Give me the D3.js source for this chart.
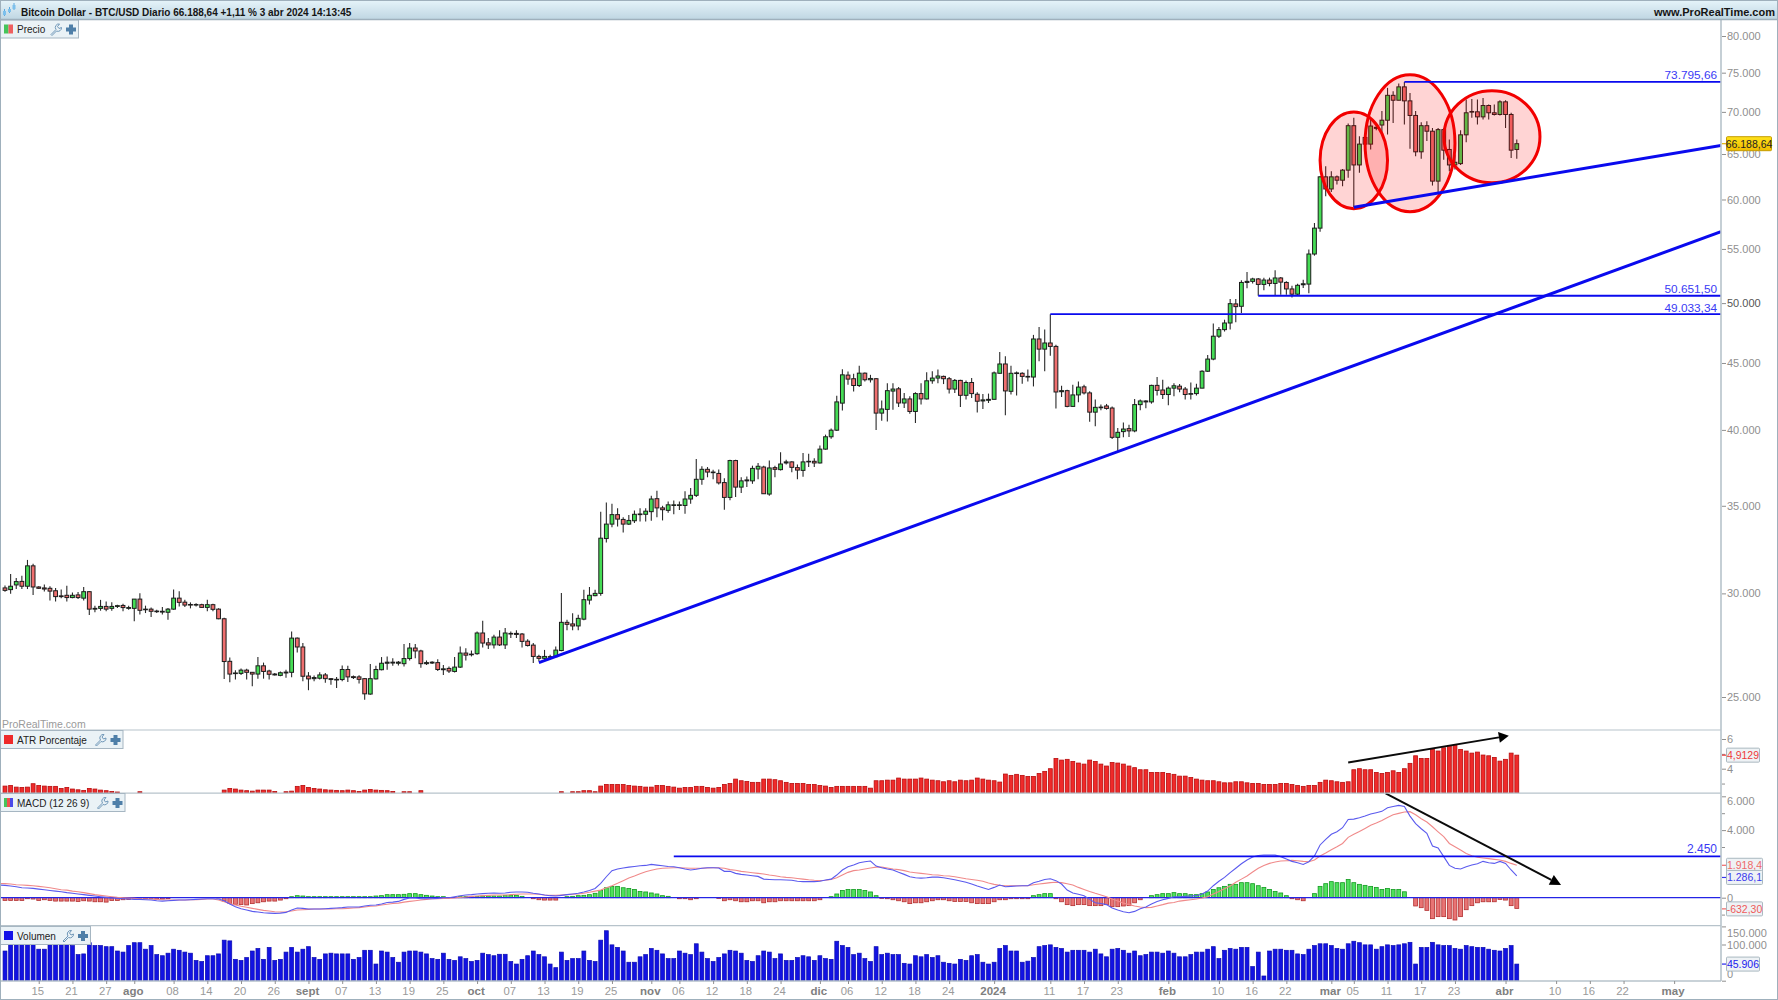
<!DOCTYPE html>
<html><head><meta charset="utf-8">
<script src="https://cdn.jsdelivr.net/npm/d3@7"></script>
<style>
html,body{margin:0;padding:0;background:#fff;overflow:hidden}
svg{display:block}
text{font-family:"Liberation Sans",Arial,sans-serif}
</style></head><body><svg id="c" width="1778" height="1000"></svg>
<script>
const startDay="2023-07-09";
const opens=[
30290,30200,30450,30640,30380,31490,30340,30290,30270,30140,
29870,29900,29780,29920,29750,30090,29180,29220,29320,29220,
29320,29370,29220,29220,29700,29180,29180,29080,29030,29020,
29180,29750,29540,29420,29390,29410,29270,29410,29180,28690,
26620,26050,26060,26210,26110,26030,26410,26170,26030,25970,
26080,26110,27730,27300,25940,25820,25840,25990,25820,25760,
25780,26240,25910,25900,25820,25130,25810,26230,26530,26540,
26530,26510,26750,27250,27110,26510,26540,26560,26230,26290,
26150,26350,27010,26930,26980,27980,27500,27400,27780,27400,
27930,27960,27930,27580,27390,26850,26760,26810,26840,27130,
28510,28430,28330,28670,29650,29880,30000,33040,33890,34460,
34170,33890,34090,34460,34480,34640,35440,34870,34720,35020,
35020,35020,35420,35650,36670,37320,37100,37050,36460,35520,
37900,36170,36570,36570,37340,37470,35730,37430,37300,37740,
37810,37430,37250,37810,37850,37740,38670,39520,39980,41930,
44050,43770,43250,44200,43690,43770,41200,41470,42830,43000,
41940,42240,41320,42640,42240,43610,43820,43950,43770,42980,
43640,42510,43480,42590,42090,42140,42210,44190,44920,42810,
44170,44190,43900,43900,46940,46110,46610,46330,42780,42860,
41690,42540,43150,42690,41270,41590,41720,41570,39480,39880,
40090,39930,41820,42020,42020,43260,42910,42570,43050,43200,
42980,42590,42640,43050,44350,45310,47170,47720,48280,49930,
49720,51850,51950,52170,51670,52070,51760,52260,51850,51260,
50790,51640,51700,54510,57050,62440,61120,62440,62070,63180,
68320,63760,66920,66140,68000,68400,68980,72070,71450,73150,
71370,69560,65250,68320,67660,61970,67850,65520,63760,63910,
67230,69970,70010,69390,70790,69890,69680,71250,69680,65520];
const closes=[
30160,30380,30630,30380,31490,30340,30270,30230,30120,29830,
29830,29780,29900,29780,30090,29180,29220,29320,29180,29320,
29360,29260,29260,29700,29120,29150,29070,29050,29070,29180,
29750,29530,29390,29390,29420,29270,29410,29170,28690,26610,
26030,26080,26210,26110,26030,26410,26150,26020,25990,26090,
26120,27730,27300,25930,25810,25870,25990,25820,25780,25790,
26240,25900,25870,25790,25140,25820,26240,26530,26580,26580,
26580,26750,27250,27110,26510,26560,26580,26240,26270,26170,
26350,27010,26910,26960,27980,27490,27400,27780,27400,27980,
27960,27910,27570,27370,26850,26760,26850,26840,27150,28510,
28410,28330,28710,29670,29900,30000,33060,33890,34460,34190,
33890,34110,34480,34500,34670,35420,34870,34760,35060,35060,
35060,35420,35650,36670,37320,37140,37140,36440,35520,37900,
36170,36570,36630,37380,37520,35750,37410,37320,37670,37810,
37450,37270,37810,37850,37740,38670,39520,39980,42020,44070,
43740,43250,44200,43690,43790,41200,41500,42860,42980,41940,
42240,41320,42640,42240,43610,43820,43980,43770,42980,43640,
42510,43480,42640,42070,42170,42210,44220,44920,42840,44190,
44220,43950,43950,46940,46110,46610,46330,42760,42860,41690,
42540,43130,42690,41270,41620,41640,41540,39480,39830,40060,
39930,41820,42090,42090,43260,42880,42570,43050,43230,42980,
42570,42640,43050,44350,45310,47170,47720,48280,49950,49690,
51850,51950,52170,51670,52070,51760,52260,51880,51260,50790,
51590,51730,54510,57050,62440,61120,62440,62070,63180,68320,
63760,66140,66140,68280,68120,68980,72070,71450,73150,71370,
69560,65250,68320,67660,61970,67850,65440,63760,64060,67230,
69890,70050,69390,70790,69890,69680,71250,69680,65440,66188.64];
const highs=[
30420,31040,30820,30950,31820,31600,30380,30470,30380,30290,
30200,30410,30050,30070,30340,30110,29360,29660,29580,29530,
29410,29460,29360,29700,30010,29360,29260,29150,29290,29240,
30200,30110,29660,29530,29490,29460,29660,29460,29220,28740,
26800,26200,26290,26270,26120,26820,26560,26230,26080,26150,
26230,28050,27760,27490,26120,25960,26110,26080,25850,25900,
26420,26410,25960,25970,25850,26500,26410,26820,26850,26770,
26640,27440,27490,27440,27170,26660,26620,26720,26450,26380,
26820,27320,27240,27130,28060,28590,27730,27900,28110,28230,
28060,28110,27980,27680,27490,26930,27160,26930,27320,30020,
28640,28970,28890,30190,30340,30190,34640,35210,35130,34850,
34300,34440,34710,34850,34850,35630,35940,35000,35270,35330,
35270,35900,36110,38010,37520,37470,37290,37300,36740,37960,
37960,36810,36850,37560,37740,37560,37900,37560,38450,37960,
37850,37630,38410,38360,38050,38920,39670,40100,42470,44510,
44330,44150,44780,44250,44070,43820,42120,43430,43430,43130,
42690,42440,42740,43430,44270,44350,44480,44010,43900,43740,
43690,43640,43820,42740,42610,42640,44320,45870,45530,44780,
44320,44270,44480,47280,47950,47720,49033.34,46470,43230,42930,
43310,43560,43310,42810,42190,41820,41870,41690,40130,40530,
40370,42240,42190,42140,43310,43900,43690,43180,43430,43360,
43130,43480,43380,44430,45630,48230,47950,48560,50360,50360,
52040,52820,52290,52260,52290,52290,52980,52350,51950,51550,
51730,52100,54940,57570,62500,63620,63060,62590,63320,68570,
69270,67070,67000,69070,68650,70100,73020,72580,73580,73795.66,
72360,70100,68730,68850,68040,68040,68040,66680,64930,67770,
71540,71620,71540,71740,70920,70920,71450,71450,69890,66680];
const lows=[
30090,29980,30230,30230,30230,29920,30230,30100,29630,29580,
29750,29580,29750,29700,29630,28880,29020,29100,29070,29100,
29240,29070,29150,28560,28900,28980,28780,28980,28910,28640,
29150,29320,29290,29220,29320,29240,29070,29070,28670,25810,
25660,25780,25990,25780,25480,25820,25820,25780,25960,25930,
25860,25880,27040,25700,25300,25700,25780,25630,25550,25400,
25700,25670,25810,25600,24880,25100,25780,26200,26230,26410,
26420,26380,26660,26770,26320,26450,26500,26170,25990,26080,
26100,26310,26660,26850,26930,27270,27200,27230,27350,27200,
27730,27730,27270,27320,26540,26620,26620,26700,26810,27090,
28110,28110,28110,28610,29420,29850,29880,32810,33710,33750,
33400,33830,33950,34050,34050,34090,34300,34110,34580,34480,
34740,34520,35130,35540,36320,36800,36670,36340,34750,35340,
35540,35790,36170,36380,36670,35750,35630,36800,37250,37630,
37120,36670,36830,37470,37470,37700,38630,39380,39930,41390,
43300,42800,43130,43560,43480,40000,40650,40600,41450,41640,
41570,41150,40490,41820,42190,43380,43430,43360,42640,42690,
41640,42190,42310,41250,41500,41940,42210,44170,41050,42570,
42490,43380,43560,43180,45130,44350,45580,41540,42390,41620,
41640,41990,42570,40580,40250,41400,41450,39370,38505,39480,
39500,39830,41400,41550,41890,42490,42240,41770,42440,42740,
42190,42190,42490,43050,44300,45210,47030,47560,47720,48340,
49130,51320,51760,50651.5,51140,51500,50670,50750,50750,50490,
50700,51350,50880,54350,56700,60340,60790,61590,61420,62330,
59190,62880,66060,65530,67770,67270,67270,68650,71450,68450,
65590,64740,64470,66490,61490,60680,64350,63070,63250,63760,
66370,69270,68450,69070,69070,69560,69560,68040,64540,64470];
const atr=[
2.83,2.87,2.76,2.74,2.76,2.99,2.87,2.83,2.81,2.81,
2.67,2.74,2.63,2.58,2.54,2.67,2.63,2.56,2.52,2.47,
2.43,2.3,2.3,2.3,2.45,2.3,2.3,2.3,2.3,2.3,
2.3,2.3,2.3,2.3,2.3,2.3,2.3,2.3,2.3,2.56,
2.67,2.63,2.56,2.52,2.49,2.56,2.56,2.56,2.47,2.3,
2.45,2.49,2.81,2.87,2.74,2.67,2.63,2.58,2.56,2.54,
2.52,2.56,2.52,2.47,2.56,2.60,2.56,2.54,2.52,2.47,
2.3,2.45,2.45,2.3,2.52,2.3,2.3,2.3,2.3,2.3,
2.3,2.3,2.3,2.3,2.3,2.3,2.3,2.3,2.3,2.3,
2.3,2.3,2.3,2.3,2.3,2.3,2.3,2.3,2.3,2.45,
2.3,2.45,2.45,2.52,2.52,2.45,2.83,2.94,2.94,2.94,
2.94,2.87,2.83,2.81,2.76,2.76,2.87,2.87,2.81,2.76,
2.69,2.74,2.74,2.81,2.81,2.74,2.69,2.74,2.94,3.01,
3.30,3.19,3.14,3.08,3.08,3.30,3.30,3.26,3.19,3.08,
3.01,3.01,3.01,2.94,2.94,2.87,2.83,2.74,2.81,2.81,
2.81,2.81,2.81,2.81,2.69,3.19,3.19,3.23,3.23,3.37,
3.30,3.30,3.30,3.37,3.30,3.23,3.19,3.12,3.19,3.12,
3.23,3.19,3.23,3.37,3.30,3.23,3.19,3.10,3.64,3.55,
3.62,3.55,3.48,3.48,3.68,3.82,4.00,4.69,4.58,4.63,
4.49,4.38,4.31,4.58,4.49,4.31,4.18,4.42,4.38,4.31,
4.18,4.07,3.93,3.93,3.75,3.75,3.75,3.68,3.62,3.50,
3.50,3.41,3.30,3.23,3.19,3.19,3.12,3.05,3.05,3.12,
3.12,3.05,3.01,3.01,2.94,2.94,2.94,3.01,3.01,2.94,
2.87,2.81,2.87,2.87,3.08,3.23,3.19,3.12,3.08,3.12,
3.93,4.00,3.93,3.93,3.75,3.68,3.75,3.86,3.75,4.00,
4.36,4.87,4.69,4.69,5.30,5.19,5.41,5.55,5.59,5.30,
5.19,5.05,5.12,4.92,4.87,4.76,4.51,4.63,5.05,4.9129];
const macd=[
730,690,650,590,570,550,510,470,430,390,
350,300,260,220,180,140,100,60,20,-20,
-40,-60,-80,-100,-100,-120,-140,-180,-200,-180,
-160,-140,-140,-120,-100,-80,-60,-60,-80,-180,
-370,-530,-650,-730,-810,-850,-890,-910,-930,-910,
-870,-730,-610,-630,-670,-670,-670,-650,-630,-610,
-590,-550,-550,-550,-490,-450,-430,-370,-280,-260,
-220,-100,-20,-20,-60,-60,-60,-40,0,0,
60,120,160,180,220,240,260,280,260,280,
320,340,340,320,260,220,160,120,100,140,
180,220,260,340,430,550,850,1240,1600,1700,
1760,1810,1850,1890,1910,1970,1930,1890,1850,1830,
1770,1700,1640,1680,1740,1770,1770,1760,1560,1560,
1440,1380,1340,1300,1260,1100,1080,1060,1060,1050,
1030,970,950,950,950,970,1050,1100,1340,1640,
1830,1930,2070,2130,2170,1870,1770,1700,1640,1500,
1380,1240,1180,1160,1180,1220,1220,1180,1120,1060,
990,910,810,690,590,490,610,750,650,670,
690,710,710,890,970,1080,1120,1010,810,450,
280,200,120,-100,-300,-340,-410,-610,-730,-830,
-890,-810,-650,-550,-370,-220,-120,-40,60,60,
80,100,120,220,390,710,970,1200,1480,1740,
2010,2230,2410,2500,2520,2520,2520,2430,2290,2150,
2070,1970,2130,2470,3120,3450,3750,3900,4140,4630,
4650,4730,4830,4950,5030,5110,5320,5400,5460,5400,
4830,4380,4080,3810,3060,2940,2430,1910,1740,1700,
1830,1930,2010,2150,2070,2030,2150,2030,1640,1286.1];
const signal=[
830,810,770,750,730,710,670,630,590,530,
470,450,390,350,300,240,180,140,100,60,
20,0,-20,-40,-60,-80,-80,-100,-120,-140,
-140,-140,-140,-120,-120,-100,-80,-80,-140,-240,
-350,-430,-510,-570,-630,-690,-750,-790,-830,-850,
-830,-790,-730,-710,-690,-670,-670,-670,-670,-650,
-650,-630,-610,-590,-550,-510,-490,-430,-390,-340,
-320,-260,-220,-180,-140,-100,-60,-60,-40,-40,
-20,20,40,80,100,120,140,160,160,160,
180,200,220,220,220,200,160,140,140,160,
180,200,220,260,320,390,450,590,710,850,
1010,1160,1280,1420,1540,1620,1700,1740,1760,1770,
1770,1760,1740,1740,1740,1760,1770,1770,1740,1660,
1620,1560,1520,1480,1440,1400,1340,1300,1240,1200,
1180,1140,1100,1060,1030,1010,1030,1080,1180,1340,
1500,1600,1640,1700,1760,1810,1810,1760,1700,1660,
1600,1520,1480,1440,1400,1360,1340,1300,1280,1240,
1180,1120,1080,1030,970,870,790,730,710,710,
710,710,710,770,810,850,890,910,890,830,
750,610,490,370,260,160,60,-80,-200,-320,
-410,-490,-550,-590,-570,-490,-410,-320,-280,-200,
-160,-120,-80,-20,60,220,370,530,690,910,
1100,1280,1520,1740,1910,2030,2110,2170,2190,2210,
2190,2150,2130,2230,2470,2640,2840,3020,3210,3570,
3750,3920,4100,4280,4420,4570,4750,4910,4990,5070,
5090,4910,4670,4480,4200,3900,3610,3210,3020,2820,
2620,2480,2390,2350,2310,2270,2230,2150,2030,1918.4];
const histogram=[
-160,-160,-160,-160,-60,-80,-160,-120,-160,-200,
-200,-200,-200,-220,-180,-200,-240,-240,-260,-160,
-160,-120,-100,-60,-40,-60,-60,-80,-80,-60,
0,0,0,0,0,0,0,0,-20,-200,
-340,-390,-410,-430,-350,-300,-240,-200,-200,-140,
-60,60,120,100,60,60,60,60,60,60,
60,60,60,60,60,60,100,120,180,180,
180,200,240,240,180,140,100,60,60,0,
0,60,60,60,80,100,100,100,100,140,
140,140,80,0,-60,-120,-140,-140,-140,0,
60,80,120,140,180,260,430,590,670,670,
590,550,490,370,340,280,220,120,80,0,
-60,-60,-120,-60,0,0,0,-40,-180,-120,
-180,-240,-240,-180,-180,-300,-240,-240,-180,-180,
-180,-180,-180,-180,-180,-120,0,60,220,430,
490,490,490,430,340,120,-40,-60,-120,-180,
-240,-350,-300,-300,-240,-180,-120,-120,-180,-220,
-220,-220,-300,-350,-350,-350,-240,-120,-120,-60,
-60,-60,-60,120,180,240,240,-60,-240,-410,
-470,-410,-410,-470,-470,-470,-410,-530,-530,-490,
-470,-300,-120,0,120,180,240,240,300,240,
240,180,180,240,340,490,590,670,790,790,
890,890,830,710,610,490,370,280,120,-60,
-120,-180,0,240,670,830,950,890,890,1080,
890,790,730,670,610,490,550,490,490,350,
0,-490,-590,-750,-1240,-1120,-1120,-1240,-1320,-1120,
-710,-470,-300,-240,-240,-240,-100,-140,-470,-632.3];
const volumeK=[
82,107,107,107,107,107,87,87,103,105,
105,105,97,72,74,105,97,97,94,94,
82,79,97,105,105,87,97,72,69,76,
87,84,79,76,56,53,69,69,74,112,
110,59,56,64,82,89,59,92,56,59,
79,92,79,87,94,64,59,74,76,74,
74,74,59,64,84,84,46,82,79,64,
51,79,82,82,79,74,61,59,76,59,
56,66,61,53,56,76,72,69,73,73,
53,46,59,69,82,72,66,46,36,79,
56,61,61,82,56,53,112,138,99,92,
82,51,51,66,72,89,84,74,61,61,
82,76,72,102,79,61,53,64,74,84,
82,76,56,53,69,82,79,61,74,56,
56,64,69,66,56,69,61,59,109,97,
92,72,76,61,53,94,72,76,72,72,
48,46,69,66,72,64,69,51,48,46,
59,56,69,72,51,46,51,89,97,82,
82,51,54,64,94,97,99,92,89,79,
84,84,84,79,87,74,66,87,89,84,
76,82,69,72,79,79,76,82,76,66,
66,72,79,79,87,94,61,84,89,87,
92,92,39,79,13,82,87,87,84,84,
74,72,87,97,102,102,97,89,87,102,
109,105,99,99,87,94,99,97,99,102,
106,46,92,92,106,99,97,97,89,87,
97,94,92,92,87,84,82,89,97,45.906];
const macdBefore=750, signalBefore=840;

const priceTicks=[80000,75000,70000,65000,60000,55000,50000,45000,40000,35000,30000,25000];
const atrTicks=[6,4];
const atrMinor=[5,3];
const macdTicks=[6000,4000,0];
const macdMinor=[5000,3000,-1000];
const volTicks=[150,100,0];
const tickDates=["2023-07-15","2023-07-21","2023-07-27","2023-08-01","2023-08-08","2023-08-14","2023-08-20","2023-08-26","2023-09-01","2023-09-07","2023-09-13","2023-09-19","2023-09-25","2023-10-01","2023-10-07","2023-10-13","2023-10-19","2023-10-25","2023-11-01","2023-11-06","2023-11-12","2023-11-18","2023-11-24","2023-12-01","2023-12-06","2023-12-12","2023-12-18","2023-12-24","2024-01-01","2024-01-11","2024-01-17","2024-01-23","2024-02-01","2024-02-10","2024-02-16","2024-02-22","2024-03-01","2024-03-05","2024-03-11","2024-03-17","2024-03-23","2024-04-01","2024-04-10","2024-04-16","2024-04-22","2024-05-01"];
const tickLabels=["15","21","27","ago","08","14","20","26","sept","07","13","19","25","oct","07","13","19","25","nov","06","12","18","24","dic","06","12","18","24","2024","11","17","23","feb","10","16","22","mar","05","11","17","23","abr","10","16","22","may"];
const monthLabels=["ago","sept","oct","nov","dic","2024","feb","mar","abr","may"];
const axisEnd="2024-05-09T08:00:00Z";
const trendLines=[{from:"2023-10-12",p0:26556,to:axisEnd,p1:56690},{from:"2024-03-05",p0:59190,to:axisEnd,p1:65990}];
const levels=[{from:"2024-03-14",p:73795.66,label:"73.795,66"},{from:"2024-02-17",p:50651.5,label:"50.651,50"},{from:"2024-01-11",p:49033.34,label:"49.033,34"}];
const ellipses=[{c:"2024-03-05",half:6,top:70000,bottom:59040},{c:"2024-03-15",half:8,top:74740,bottom:58730},{c:"2024-03-29T14:00:00Z",half:8.54,top:72660,bottom:61790}];

const svg=d3.select("#c");
const DAY=864e5;
const t0=Date.parse(startDay+"T00:00:00Z");
const dt=s=>new Date(s.length>10?s:s+"T00:00:00Z");
const dates=opens.map((_,i)=>new Date(t0+i*DAY));
const lineDates=[new Date(t0-DAY),...dates];
const x=d3.scaleUtc().domain([new Date(t0),new Date(t0+305*DAY)]).range([5,5+5.62*305]);
const y=d3.scaleLog().domain([25000,80000]).range([697,36]);
const yAtr=d3.scaleLinear().domain([4,6]).range([768.7,739]);
const yMacd=d3.scaleLinear().domain([0,4000]).range([897.7,830.1]);
const yVol=d3.scaleLinear().domain([0,100]).range([980.7,944.5]);
const atrBase=792.7, volBase=980.7, RIGHT=1721;
const loc=d3.formatLocale({decimal:",",thousands:".",grouping:[3],currency:["","€"]});
const fmt=loc.format(",");
const BW=3.9, LINE="#b7c3cb", TICK="#8f8f8f";

const defs=svg.append("defs");
const g1=defs.append("linearGradient").attr("id","tb").attr("x1",0).attr("x2",0).attr("y1",0).attr("y2",1);
g1.append("stop").attr("offset",0).attr("stop-color","#e6f4fa");
g1.append("stop").attr("offset",1).attr("stop-color","#bfd6e2");
const g2=defs.append("linearGradient").attr("id","yb").attr("x1",0).attr("x2",0).attr("y1",0).attr("y2",1);
g2.append("stop").attr("offset",0).attr("stop-color","#ffe21a");
g2.append("stop").attr("offset",1).attr("stop-color","#f0bc00");
defs.append("clipPath").attr("id","pm").append("rect").attr("x",1).attr("y",20).attr("width",RIGHT-1).attr("height",710);
defs.append("clipPath").attr("id","pl").append("rect").attr("x",1).attr("y",793).attr("width",RIGHT-1).attr("height",132);

svg.append("rect").attr("width",1778).attr("height",1000).attr("fill","#fff");

// candles
const main=svg.append("g").attr("clip-path","url(#pm)");
const cg=main.append("g");
const cand=cg.selectAll("g").data(dates).join("g");
cand.append("line").attr("x1",d=>x(d)).attr("x2",d=>x(d))
  .attr("y1",(d,i)=>y(highs[i])).attr("y2",(d,i)=>y(lows[i])).attr("stroke","#2a2a2a").attr("stroke-width",1.1);
cand.append("rect").attr("x",d=>x(d)-1.9).attr("width",3.8)
  .attr("y",(d,i)=>Math.min(y(opens[i]),y(closes[i])))
  .attr("height",(d,i)=>Math.max(0.6,Math.abs(y(opens[i])-y(closes[i]))))
  .attr("fill",(d,i)=>closes[i]>=opens[i]?"#45dc55":"#ef6f6f")
  .attr("stroke","#1c1c1c").attr("stroke-width",1);

// ellipses
main.selectAll("ellipse").data(ellipses).join("ellipse")
  .attr("cx",d=>x(dt(d.c)))
  .attr("cy",d=>(y(d.top)+y(d.bottom))/2)
  .attr("rx",d=>x(new Date(+dt(d.c)+d.half*DAY))-x(dt(d.c)))
  .attr("ry",d=>(y(d.bottom)-y(d.top))/2)
  .attr("fill","#ff0000").attr("fill-opacity",0.17)
  .attr("stroke","#f20000").attr("stroke-width",3);

// trend lines and levels
main.selectAll("line.t").data(trendLines).join("line").attr("class","t")
  .attr("x1",d=>x(dt(d.from))).attr("y1",d=>y(d.p0)).attr("x2",d=>x(dt(d.to))).attr("y2",d=>y(d.p1))
  .attr("stroke","#0a0aee").attr("stroke-width",3);
main.selectAll("line.l").data(levels).join("line").attr("class","l")
  .attr("x1",d=>x(dt(d.from))).attr("x2",RIGHT).attr("y1",d=>y(d.p)).attr("y2",d=>y(d.p))
  .attr("stroke","#0a0aee").attr("stroke-width",1.8);
svg.selectAll("text.l").data(levels).join("text").attr("class","l")
  .attr("x",1717).attr("y",d=>y(d.p)-2.5).attr("text-anchor","end").attr("font-size",11.8)
  .attr("fill","#3a3af5").text(d=>d.label);

svg.append("text").attr("x",2).attr("y",728).attr("font-size",10.5).attr("fill","#9a9a9a").text("ProRealTime.com");

// ATR
svg.append("g").selectAll("rect").data(dates).join("rect")
  .attr("x",d=>x(d)-BW/2).attr("width",BW)
  .attr("y",(d,i)=>yAtr(atr[i]))
  .attr("height",(d,i)=>Math.max(0,atrBase-yAtr(atr[i])))
  .attr("fill","#ef2a2a").attr("stroke","#b80d0d").attr("stroke-width",0.8)
  .attr("display",(d,i)=>yAtr(atr[i])<atrBase-0.3?null:"none");

// MACD
svg.append("g").selectAll("rect").data(dates).join("rect")
  .attr("x",d=>x(d)-BW/2).attr("width",BW)
  .attr("y",(d,i)=>Math.min(yMacd(histogram[i]),yMacd(0)))
  .attr("height",(d,i)=>Math.abs(yMacd(histogram[i])-yMacd(0)))
  .attr("fill",(d,i)=>histogram[i]>=0?"#4fe05c":"#e87474")
  .attr("stroke",(d,i)=>histogram[i]>=0?"#129a20":"#b23030").attr("stroke-width",0.8)
  .attr("display",(d,i)=>histogram[i]===0?"none":null);
svg.append("line").attr("x1",1).attr("x2",RIGHT).attr("y1",yMacd(0)).attr("y2",yMacd(0)).attr("stroke","#2424e6").attr("stroke-width",1.2);
const signalSeries=[signalBefore,...signal], macdSeries=[macdBefore,...macd];
const lineG=svg.append("g").attr("clip-path","url(#pl)");
lineG.append("path").attr("d",d3.line().x(d=>x(d)).y((d,i)=>yMacd(signalSeries[i]))(lineDates)).attr("fill","none").attr("stroke","#f08a8a").attr("stroke-width",1.1);
lineG.append("path").attr("d",d3.line().x(d=>x(d)).y((d,i)=>yMacd(macdSeries[i]))(lineDates)).attr("fill","none").attr("stroke","#5a5aee").attr("stroke-width",1.1);
svg.append("line").attr("x1",x(dt("2023-11-05"))).attr("x2",RIGHT).attr("y1",yMacd(2450)).attr("y2",yMacd(2450)).attr("stroke","#0a0aee").attr("stroke-width",1.8);
svg.append("text").attr("x",1717).attr("y",yMacd(2450)-3).attr("text-anchor","end").attr("font-size",12).attr("fill","#3a3af5").text(fmt(2450));

// Volume
svg.append("g").selectAll("rect").data(dates).join("rect")
  .attr("x",d=>x(d)-BW/2).attr("width",BW)
  .attr("y",(d,i)=>yVol(volumeK[i]))
  .attr("height",(d,i)=>volBase-yVol(volumeK[i]))
  .attr("fill","#1212e2").attr("stroke","#0a0ab0").attr("stroke-width",0.7);

// arrows
const arrow=(x0,y0,x1,y1,len,wid)=>{
  const a=Math.atan2(y1-y0,x1-x0),bx=x1-len*Math.cos(a),by=y1-len*Math.sin(a);
  svg.append("line").attr("x1",x0).attr("y1",y0).attr("x2",bx).attr("y2",by).attr("stroke","#0b0b0b").attr("stroke-width",2);
  const px=Math.sin(a)*wid/2,py=-Math.cos(a)*wid/2;
  svg.append("polygon").attr("points",[[x1,y1],[bx+px,by+py],[bx-px,by-py]].join(" ")).attr("fill","#000");
};
arrow(x(dt("2024-03-04")),yAtr(4.42),x(dt("2024-04-01T14:00:00Z")),yAtr(6.22),10,11);
arrow(x(dt("2024-03-10T16:00:00Z")),yMacd(6170),x(dt("2024-04-10T21:00:00Z")),yMacd(750),11,11);

// panel frames
[[730],[793.2],[925.7]].forEach(([p])=>svg.append("line").attr("x1",0).attr("x2",RIGHT).attr("y1",p).attr("y2",p).attr("stroke",LINE).attr("stroke-width",1.2));
svg.append("line").attr("x1",0).attr("x2",RIGHT).attr("y1",981).attr("y2",981).attr("stroke",LINE).attr("stroke-width",1.4);
svg.append("line").attr("x1",RIGHT).attr("x2",RIGHT).attr("y1",19).attr("y2",981).attr("stroke",LINE).attr("stroke-width",1.6);

// axes
const styleAxis=(g,size)=>{g.select(".domain").remove();g.selectAll(".tick line").attr("stroke",TICK);
  g.selectAll(".tick text").attr("fill",TICK).attr("font-size",size).attr("font-family",'"Liberation Sans",Arial,sans-serif');};
const ax=(scale,vals,f,minor)=>{
  const g=svg.append("g").attr("transform",`translate(${RIGHT+1},0)`)
   .call(d3.axisRight(scale).tickValues(vals).tickFormat(f).tickSize(4).tickPadding(1));
  styleAxis(g,11);
  if(minor) svg.append("g").attr("transform",`translate(${RIGHT+1},0)`).call(d3.axisRight(scale).tickValues(minor).tickFormat("").tickSize(3)).call(s=>{s.select(".domain").remove();s.selectAll("line").attr("stroke",TICK);});
  return g;
};
const mainAx=ax(y,priceTicks,fmt);
mainAx.selectAll(".tick text").filter(d=>d===50000).attr("fill","#555");
ax(yAtr,atrTicks,d=>d,atrMinor);
const mAx=ax(yMacd,macdTicks,fmt,macdMinor);
mAx.selectAll(".tick text").attr("transform",d=>d===6000?"translate(0,4.7)":null);
const vAx=ax(yVol,volTicks,d=>fmt(d*1000));
vAx.selectAll(".tick text").attr("transform",d=>d===150?"translate(0,7)":d===0?"translate(0,-6.5)":null);

const xAx=svg.append("g").attr("transform","translate(0,981)")
  .call(d3.axisBottom(x).tickValues(tickDates.map(dt)).tickFormat((d,i)=>tickLabels[i]).tickSize(3).tickPadding(3));
xAx.select(".domain").remove();
xAx.selectAll(".tick line").attr("stroke",TICK);
xAx.selectAll(".tick text").attr("dx",-1.5).attr("fill","#9a9a9a").attr("font-size",11.3).attr("font-family",'"Liberation Sans",Arial,sans-serif')
  .filter((d,i)=>monthLabels.includes(tickLabels[i])).attr("font-weight","bold").attr("fill","#808080").attr("font-size",11.5);

// value boxes
const box=(bx,by,w,txt,col,fill,stroke,tickCol)=>{
  svg.append("line").attr("x1",RIGHT+1).attr("x2",bx).attr("y1",by).attr("y2",by).attr("stroke",tickCol).attr("stroke-width",1.2);
  svg.append("rect").attr("x",bx+.5).attr("y",by-7).attr("width",w).attr("height",14).attr("fill",fill).attr("stroke",stroke).attr("rx",1);
  svg.append("text").attr("x",bx+w/2+.5).attr("y",by+4).attr("text-anchor","middle").attr("font-size",10.5).attr("fill",col).text(txt);
};
box(1726,y(closes[269]),45,"66.188,64","#222","url(#yb)","#c49c00","#e0b000");
box(1726,yAtr(atr[269]),33,"4,9129","#ee3a3a","#eef2f5","#aab8c0","#e33");
box(1726,yMacd(signal[269]),36,"1.918,4","#ef6a6a","#eef2f5","#aab8c0","#e66");
box(1726,yMacd(macd[269])+1.5,36,"1.286,1","#3a3aee","#eef2f5","#aab8c0","#33e");
box(1726,yMacd(histogram[269])+0.5,36,"-632,30","#ef5a5a","#eef2f5","#aab8c0","#e66");
box(1726,yVol(volumeK[269]),33,"45.906","#1a1aee","#eef2f5","#aab8c0","#22e");

// legends
const legend=(py,w,label,cols)=>{
  const g=svg.append("g");
  g.append("rect").attr("x",.5).attr("y",py).attr("width",w).attr("height",18).attr("fill","#eaf2f6").attr("stroke","#a6b6c2");
  const sw=9/cols.length;
  cols.forEach((c,i)=>g.append("rect").attr("x",4+i*sw).attr("y",py+4.5).attr("width",sw).attr("height",9).attr("fill",c));
  g.append("text").attr("x",17).attr("y",py+13).attr("font-size",10).attr("fill","#222").text(label);
  const wx=w-27;
  g.append("path").attr("d",`M${wx} ${py+14.5} l5 -5 a3.5 3.5 0 0 1 3.5 -5.5 l-2 2.5 1.5 2 2.5 -1 a3.5 3.5 0 0 1 -5 3.5 l-4.5 4.5 z`).attr("fill","none").attr("stroke","#6f97b8").attr("stroke-width",1);
  g.append("path").attr("d",`M${w-9} ${py+4.5} h4 v3 h3 v4 h-3 v3 h-4 v-3 h-3 v-4 h3 z`).attr("fill","#4f7fa8");
};
legend(20,78,"Precio",["#45c45a","#ef6060"]);
legend(730.5,122.5,"ATR Porcentaje",["#ee2a2a"]);
legend(793.5,124.5,"MACD (12 26 9)",["#45c45a","#ef5050","#4a4ae8"]);
legend(926.5,90,"Volumen",["#1212e8"]);

// title bar
svg.append("rect").attr("x",0).attr("y",0).attr("width",1778).attr("height",19.5).attr("fill","url(#tb)");
svg.append("line").attr("x1",0).attr("x2",1778).attr("y1",.5).attr("y2",.5).attr("stroke","#9fb0bc");
svg.append("line").attr("x1",0).attr("x2",1778).attr("y1",19.5).attr("y2",19.5).attr("stroke","#9fb0bc").attr("stroke-width",1.4);
[[4.5,9,16],[9.5,7,13],[14,3,10]].forEach(([cx,a,b])=>{
  svg.append("line").attr("x1",cx).attr("x2",cx).attr("y1",a).attr("y2",b).attr("stroke","#5aa8e0").attr("stroke-width",1);
  svg.append("rect").attr("x",cx-1.5).attr("y",a+2).attr("width",3).attr("height",b-a-3).attr("fill","#7cc0ec");
});
svg.append("text").attr("x",21).attr("y",15.5).attr("font-size",10).attr("font-weight","bold").attr("fill","#151515").text("Bitcoin Dollar - BTC/USD Diario 66.188,64 +1,11 % 3 abr 2024 14:13:45");
svg.append("text").attr("x",1775).attr("y",16).attr("text-anchor","end").attr("font-size",11).attr("font-weight","bold").attr("fill","#151515").text("www.ProRealTime.com");

// window borders
svg.append("rect").attr("x",.5).attr("y",.5).attr("width",1777).attr("height",999).attr("fill","none").attr("stroke","#9fb0bc");
</script></body></html>
